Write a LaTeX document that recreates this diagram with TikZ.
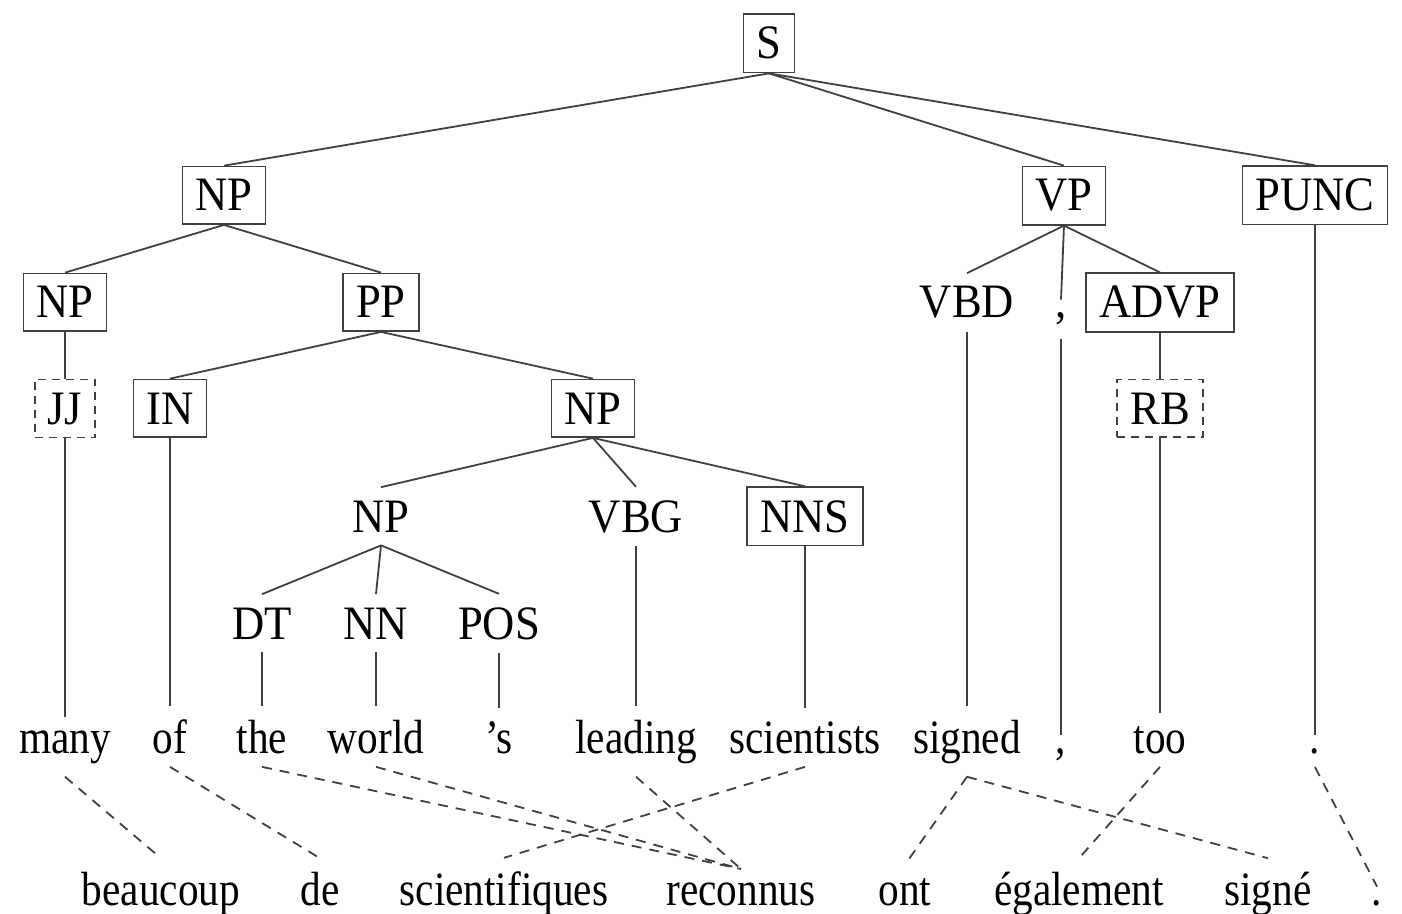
\documentclass[tikz,border=0pt]{standalone}
\usepackage{fontspec}
\setmainfont{Liberation Serif}
\newfontfamily\labelfont{Liberation Serif}[FakeStretch=0.93]
\newfontfamily\wordfont{Liberation Serif}[FakeStretch=0.86]
\begin{document}
\begin{tikzpicture}[x=0.5pt,y=-0.5pt,
  every node/.style={font=\labelfont\fontsize{24}{28}\selectfont, inner sep=6.5pt, anchor=base},
  cat/.style={},
  boxed/.style={draw=black!75, line width=0.9pt},
  dboxed/.style={draw=black!75, line width=0.9pt, dash pattern=on 4pt off 3pt},
  word/.style={font=\wordfont\fontsize{24}{28}\selectfont},
  branch/.style={draw=black!75, line width=0.9pt},
  align/.style={draw=black!75, line width=0.9pt, dash pattern=on 5pt off 4pt}]
\useasboundingbox (0,0) rectangle (1402,914);

% constituency tree
\node[boxed] (S) at (769,59) {S};
\node[boxed] (np1) at (224,211) {NP};
\node[boxed] (vp) at (1064,211) {VP};
\node[boxed] (punc) at (1315,211) {PUNC};
\node[boxed] (np2) at (65,318) {NP};
\node[boxed] (pp) at (381,318) {PP};
\node[cat] (vbd) at (967,318) {VBD};
\node[cat] (comma) at (1061,318) {,};
\node[boxed] (advp) at (1160,318) {ADVP};
\node[dboxed] (jj) at (65,424) {JJ};
\node[boxed] (in) at (170,424) {IN};
\node[boxed] (np3) at (593,424) {NP};
\node[dboxed] (rb) at (1160,424) {RB};
\node[cat] (np4) at (381,532) {NP};
\node[cat] (vbg) at (636,532) {VBG};
\node[boxed] (nns) at (805,532) {NNS};
\node[cat] (dt) at (262,639) {DT};
\node[cat] (nn) at (376,639) {NN};
\node[cat] (pos) at (499,639) {POS};

% English words
\node[word] (many) at (65,753) {many};
\node[word] (of) at (170,753) {of};
\node[word] (the) at (262,753) {the};
\node[word] (world) at (376,753) {world};
\node[word] (aps) at (499,753) {’s};
\node[word] (leading) at (636,753) {leading};
\node[word] (scientists) at (805,753) {scientists};
\node[word] (signed) at (967,753) {signed};
\node[word] (wcomma) at (1061,753) {,};
\node[word] (too) at (1160,753) {too};
\node[word] (wstop) at (1315,753) {.};

% French words
\node[word] (beaucoup) at (161,905) {beaucoup};
\node[word] (de) at (320,905) {de};
\node[word] (scientifiques) at (504,905) {scientifiques};
\node[word] (reconnus) at (741,905) {reconnus};
\node[word] (ont) at (905,905) {ont};
\node[word] (egalement) at (1079,905) {également};
\node[word] (signe) at (1268,905) {signé};
\node[word] (fstop) at (1377,905) {.};

% tree branches
\foreach \p/\c in {S/np1, S/vp, S/punc, np1/np2, np1/pp, vp/vbd, vp/comma, vp/advp,
  np2/jj, pp/in, pp/np3, advp/rb, np3/np4, np3/vbg, np3/nns, np4/dt, np4/nn, np4/pos,
  jj/many, in/of, dt/the, nn/world, pos/aps, vbg/leading, nns/scientists,
  vbd/signed, comma/wcomma, rb/too, punc/wstop}
  \draw[branch] (\p.south) -- (\c.north);

% word alignments
\foreach \e/\f in {many/beaucoup, of/de, the/reconnus, world/reconnus, leading/reconnus,
  scientists/scientifiques, signed/ont, signed/signe, too/egalement, wstop/fstop}
  \draw[align] (\e.south) -- (\f.north);
\end{tikzpicture}
\end{document}
